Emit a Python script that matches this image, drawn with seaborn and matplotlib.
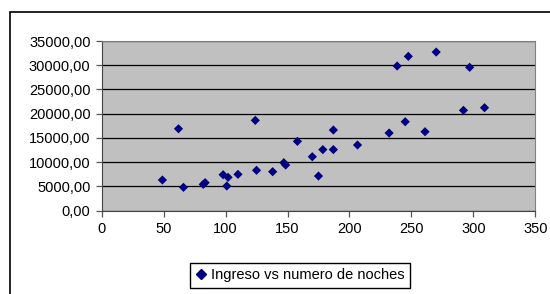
import pandas as pd
import matplotlib.pyplot as plt
import matplotlib.ticker as mticker
from matplotlib.patches import Rectangle
import seaborn as sns

# numero de noches vs ingreso
noches = [49, 62, 66, 82, 83.5, 98, 101, 102, 110, 124, 125, 138, 147, 148.5,
          158, 170, 175, 178.5, 187, 187, 206.5, 232, 238.5, 245, 247.5, 261,
          270, 292, 297, 309]
ingreso = [6330, 16900, 4820, 5440, 5780, 7420, 5090, 6880, 7500, 18630, 8330,
           8040, 9900, 9420, 14300, 11130, 7150, 12600, 12600, 16640, 13550,
           16020, 29840, 18350, 31830, 16290, 32720, 20700, 29570, 21240]
serie = "Ingreso vs numero de noches"

df = pd.DataFrame({"noches": noches, "ingreso": ingreso})
df["serie"] = serie

plt.rcParams["font.family"] = ["Liberation Sans", "DejaVu Sans"]
plt.rcParams["font.size"] = 10.5

fig = plt.figure(figsize=(5.5, 2.94), dpi=100)
# outer chart frame
fig.patches.append(Rectangle((10 / 550, -0.2), 1.2, 0.2 + 1 - 12 / 294,
                             transform=fig.transFigure, fill=False,
                             edgecolor="black", linewidth=1.2))

ax = fig.add_axes([101.7 / 550, 1 - 210.7 / 294, (535.3 - 101.7) / 550,
                   (210.7 - 41) / 294])
ax.set_facecolor("#c0c0c0")

sns.scatterplot(data=df, x="noches", y="ingreso", hue="serie",
                palette=["#000080"], marker="D", s=22, linewidth=0,
                ax=ax, zorder=3, legend=False)

ax.set_xlim(0, 350)
ax.set_ylim(0, 35000)
ax.set_xticks(range(0, 351, 50))
ax.set_yticks(range(0, 35001, 5000))
ax.yaxis.set_major_formatter(
    mticker.FuncFormatter(lambda v, p: f"{v:.2f}".replace(".", ",")))
ax.grid(axis="y", color="black", linewidth=0.9)
ax.set_axisbelow(True)
ax.set_xlabel("")
ax.set_ylabel("")
ax.tick_params(direction="out", length=4, width=0.9, color="#555555",
               labelsize=10.5, pad=4)
for side in ["left", "bottom"]:
    ax.spines[side].set_color("#444444")
for side in ["top", "right"]:
    ax.spines[side].set_color("#808080")

handle = plt.Line2D([], [], marker="D", linestyle="", color="#000080",
                    markersize=5)
fig.legend([handle], [serie], loc="center", bbox_to_anchor=(0.545, 0.063),
           frameon=True, fancybox=False, edgecolor="black", framealpha=1,
           handlelength=0.8, handletextpad=0.3, borderpad=0.35,
           fontsize=10.5)

fig.savefig("out.png", dpi=100)
